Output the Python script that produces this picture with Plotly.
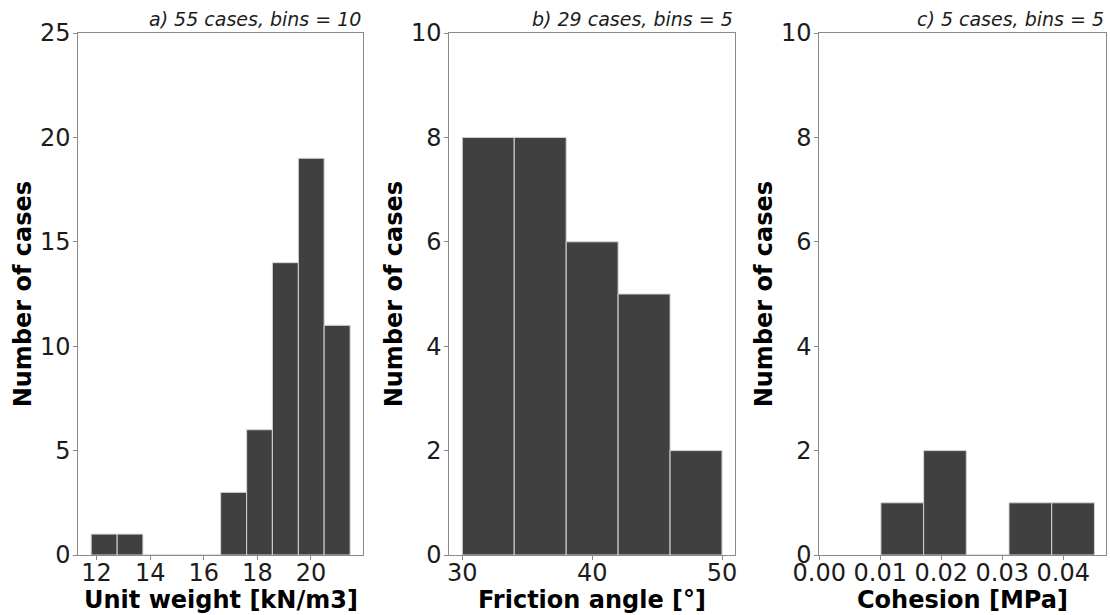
import plotly.graph_objects as go

# ---- data ----
a_edges = [11.80, 12.77, 13.73, 14.70, 15.66, 16.63, 17.60, 18.56, 19.53, 20.49, 21.46]
a_counts = [1, 1, 0, 0, 0, 3, 6, 14, 19, 11]
b_edges = [30, 34, 38, 42, 46, 50]
b_counts = [8, 8, 6, 5, 2]
c_edges = [0.0101, 0.0171, 0.0241, 0.0311, 0.0381, 0.0451]
c_counts = [1, 2, 0, 1, 1]

titles = ["a) 55 cases, bins = 10", "b) 29 cases, bins = 5", "c) 5 cases, bins = 5"]
xlabels = ["Unit weight [kN/m3]", "Friction angle [°]", "Cohesion [MPa]"]
ylabel = "Number of cases"

W, H = 1110, 615
FONT = "DejaVu Sans"
BAR = "#404040"
EDGE = "#d4d4d4"
SPINE = "#8a8a8a"
TXT = "#1c1c1c"

# pixel geometry of the axes boxes
boxes = [(78.3, 363.0), (449.3, 735.0), (819.3, 1106.0)]
top_px, bot_px = 33.0, 555.0
xranges = [[11.32, 21.94], [29, 51], [0, 0.047]]
yranges = [[0, 25], [0, 10], [0, 10]]
ydticks = [5, 2, 2]
xticks = [
    dict(tickvals=[12, 14, 16, 18, 20]),
    dict(tickvals=[30, 40, 50]),
    dict(tickvals=[0, 0.01, 0.02, 0.03, 0.04], tickformat=".2f"),
]

fig = go.Figure()
datasets = [(a_edges, a_counts), (b_edges, b_counts), (c_edges, c_counts)]
for i, (edges, counts) in enumerate(datasets):
    lefts = edges[:-1]
    widths = [edges[k + 1] - edges[k] for k in range(len(counts))]
    sfx = "" if i == 0 else str(i + 1)
    fig.add_trace(go.Bar(
        x=lefts, y=counts, width=widths, offset=0,
        marker=dict(color=BAR, line=dict(color=EDGE, width=1)),
        xaxis="x" + sfx, yaxis="y" + sfx, showlegend=False,
        hoverinfo="skip",
    ))

ydom = [1 - bot_px / H, 1 - top_px / H]
layout = dict(
    width=W, height=H,
    margin=dict(l=0, r=0, t=0, b=0, autoexpand=False),
    paper_bgcolor="white", plot_bgcolor="white",
    font=dict(family=FONT, color=TXT),
    bargap=0,
)
annotations = []
for i in range(3):
    sfx = "" if i == 0 else str(i + 1)
    x0, x1 = boxes[i]
    layout["xaxis" + sfx] = dict(
        domain=[x0 / W, x1 / W], range=xranges[i], anchor="y" + sfx,
        automargin=False,
        showline=True, linecolor=SPINE, linewidth=1, mirror=True,
        ticks="outside", ticklen=4, tickcolor=SPINE, tickwidth=1,
        ticklabelstandoff=-8,
        showgrid=False, zeroline=False,
        tickfont=dict(size=24, family=FONT, color=TXT),
        **xticks[i],
    )
    layout["yaxis" + sfx] = dict(
        domain=ydom, range=yranges[i], anchor="x" + sfx,
        automargin=False,
        showline=True, linecolor=SPINE, linewidth=1, mirror=True,
        ticks="outside", ticklen=4, tickcolor=SPINE, tickwidth=1,
        ticklabelstandoff=-2,
        showgrid=False, zeroline=False, dtick=ydticks[i], tick0=0,
        tickfont=dict(size=24, family=FONT, color=TXT),
    )
    # panel title, right-aligned to the right spine
    annotations.append(dict(
        text="<i>" + titles[i] + "</i>", xref="paper", yref="paper",
        x=x1 / W, y=1 - 32 / H, xanchor="right", yanchor="bottom",
        showarrow=False, font=dict(size=19, family=FONT, color=TXT),
    ))
    # x axis title
    annotations.append(dict(
        text="<b>" + xlabels[i] + "</b>", xref="paper", yref="paper",
        x=(x0 + x1) / 2 / W, y=1 - 600 / H, xanchor="center", yanchor="middle",
        showarrow=False, font=dict(size=24, family=FONT, color="black"),
    ))
    # y axis title
    annotations.append(dict(
        text="<b>" + ylabel + "</b>", xref="paper", yref="paper",
        x=(x0 - 55) / W, y=1 - 294 / H, xanchor="center", yanchor="middle",
        textangle=-90, showarrow=False,
        font=dict(size=24, family=FONT, color="black"),
    ))
layout["annotations"] = annotations
fig.update_layout(**layout)
fig.write_html(
    "out.html",
    config={"displayModeBar": False, "staticPlot": True},
    post_script="document.body.style.margin='0';document.body.style.padding='0';"
                "document.body.style.overflow='hidden';",
)
